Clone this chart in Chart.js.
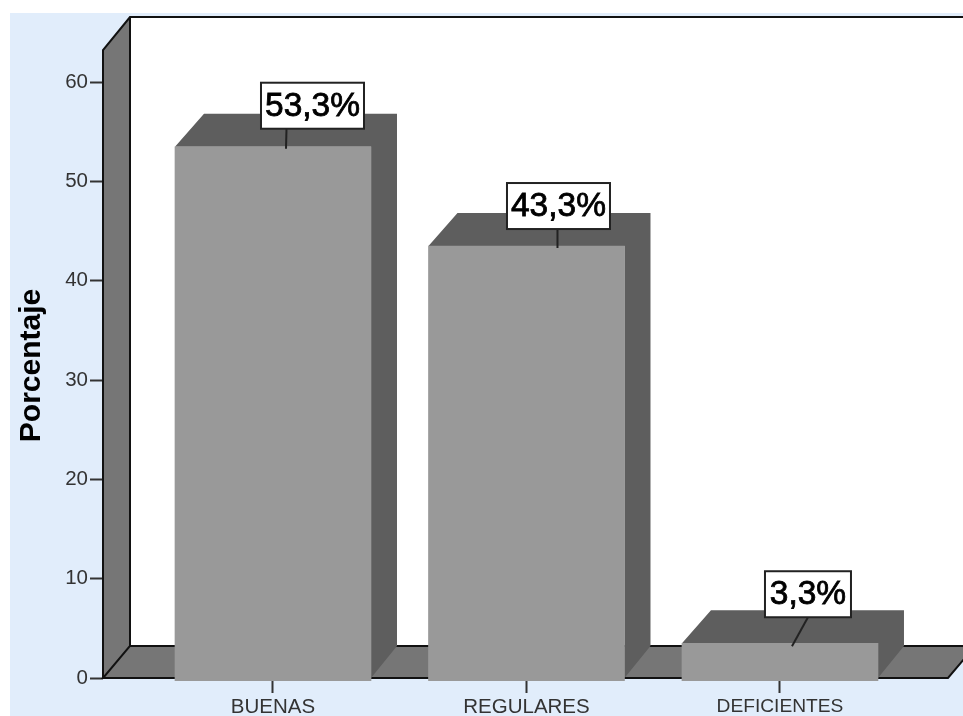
<!DOCTYPE html>
<html>
<head>
<meta charset="utf-8">
<style>
  html, body { margin: 0; padding: 0; background: #fff; }
  canvas { display: block; }
</style>
<script src="https://cdn.jsdelivr.net/npm/chart.js@4/dist/chart.umd.min.js"></script>
</head>
<body>
<canvas id="chart" width="963" height="716"></canvas>
<script>
const categories = ['BUENAS', 'REGULARES', 'DEFICIENTES'];
const percentages = [53.3, 43.3, 3.3];
const percentLabels = ['53,3%', '43,3%', '3,3%'];
const yTickValues = [0, 10, 20, 30, 40, 50, 60];

// 3D look: how far the back wall sits from the front
const depthX = 27;
const depthY = 33;
const barDepthX = 27;

// callout box placement, relative to the bar's top centre
const calloutDx = [39.5, 32, 28];
const calloutGap = [18, 17, 26];
const calloutW = [103, 103, 86];
const calloutH = 46;
const leaderEndDx = [13, 31, 12];

// the long label is set a bit tighter in the original
const categoryFontSizes = [20.5, 20.5, 19.2];

const font = '"Liberation Sans", Arial, sans-serif';

const walls3d = {
  id: 'walls3d',
  beforeDraw(chart) {
    const c = chart.ctx;
    c.save();
    c.fillStyle = '#fff';
    c.fillRect(0, 0, 963, 716);
    c.fillStyle = '#e1edfb';
    c.fillRect(10, 13, 953, 703);
    c.restore();
  },
  beforeDatasetsDraw(chart) {
    const c = chart.ctx;
    const a = chart.chartArea;
    const y0 = chart.scales.y.getPixelForValue(0);
    const left = a.left;
    const top = a.top;
    const backX = left + depthX;
    const backTop = top - depthY;
    const backBottom = y0 - depthY + 1;
    const far = 1000;

    c.save();
    // back wall
    c.fillStyle = '#fff';
    c.fillRect(backX, backTop, far, backBottom - backTop);

    // left wall
    c.fillStyle = '#767676';
    c.beginPath();
    c.moveTo(left, top);
    c.lineTo(backX, backTop);
    c.lineTo(backX, backBottom);
    c.lineTo(left, y0);
    c.closePath();
    c.fill();

    // floor
    c.beginPath();
    c.moveTo(left, y0);
    c.lineTo(backX, backBottom);
    c.lineTo(975, backBottom);
    c.lineTo(948, y0);
    c.closePath();
    c.fill();

    // edges
    c.strokeStyle = '#111';
    c.lineWidth = 2;
    c.beginPath();
    c.moveTo(left, y0);
    c.lineTo(left, top);
    c.lineTo(backX, backTop);
    c.lineTo(far, backTop);
    c.moveTo(backX, backTop);
    c.lineTo(backX, backBottom);
    c.lineTo(left, y0);
    c.lineTo(948, y0);
    c.lineTo(975, backBottom);
    c.moveTo(backX, backBottom);
    c.lineTo(far, backBottom);
    c.stroke();

    // bar side and top faces, the front face is the real bar
    c.fillStyle = '#5e5e5e';
    chart.getDatasetMeta(0).data.forEach(bar => {
      const l = bar.x - bar.width / 2;
      const r = bar.x + bar.width / 2;
      c.beginPath();
      c.moveTo(l, bar.y);
      c.lineTo(l + barDepthX + 2, bar.y - depthY);
      c.lineTo(r + barDepthX - 1, bar.y - depthY);
      c.lineTo(r + barDepthX - 1, backBottom);
      c.lineTo(r, y0);
      c.lineTo(r, bar.y);
      c.closePath();
      c.fill();
    });
    c.restore();
  },
  afterDatasetsDraw(chart) {
    const c = chart.ctx;
    c.save();
    chart.getDatasetMeta(0).data.forEach((bar, i) => {
      const cx = bar.x + calloutDx[i];
      const bottom = bar.y - calloutGap[i];
      const boxLeft = cx - calloutW[i] / 2;

      c.strokeStyle = '#222';
      c.lineWidth = 2;
      c.beginPath();
      c.moveTo(bar.x + leaderEndDx[i], bar.y + (i === 2 ? 3 : 2));
      c.lineTo(cx + (i === 0 ? -26 : i === 2 ? 0 : -1), bottom);
      c.stroke();

      c.fillStyle = '#fff';
      c.fillRect(boxLeft, bottom - calloutH, calloutW[i], calloutH);
      c.strokeRect(boxLeft, bottom - calloutH, calloutW[i], calloutH);

      c.fillStyle = '#000';
      c.font = '33.5px ' + font;
      c.textAlign = 'center';
      c.textBaseline = 'middle';
      c.fillText(percentLabels[i], cx, bottom - calloutH / 2 + 1);
      c.lineWidth = 0.8;
      c.strokeStyle = '#000';
      c.strokeText(percentLabels[i], cx, bottom - calloutH / 2 + 1);
    });
    c.restore();
  }
};

new Chart(document.getElementById('chart'), {
  type: 'bar',
  data: {
    datasets: [{
      data: percentages.map((v, i) => ({ x: i, y: v })),
      yAxisID: 'yBars',
      backgroundColor: '#999999',
      borderWidth: 0,
      barThickness: 196,
      base: -0.503
    }]
  },
  plugins: [walls3d],
  options: {
    responsive: false,
    animation: false,
    devicePixelRatio: 1,
    layout: { padding: { top: 50, left: 0, right: 0, bottom: 0 } },
    plugins: { legend: { display: false }, tooltip: { enabled: false } },
    scales: {
      x: {
        type: 'linear',
        offset: false,
        min: -0.6706,
        max: 2.722,
        afterBuildTicks: s => { s.ticks = categories.map((c, i) => ({ value: i })); },
        afterFit: s => { s.height = 35; },
        border: { display: false },
        grid: { offset: false, drawOnChartArea: false, drawTicks: true, tickLength: 12, tickColor: '#333', tickWidth: 2 },
        ticks: {
          autoSkip: false,
          maxRotation: 0,
          padding: 2,
          color: '#333',
          font: ctx => ({ family: font, size: categoryFontSizes[ctx.index] }),
          callback: v => categories[v]
        }
      },
      y: {
        position: 'left',
        min: -0.302,
        max: 63.243,
        afterBuildTicks: s => { s.ticks = yTickValues.map(v => ({ value: v })); },
        afterFit: s => { s.width = 103; },
        border: { display: false },
        grid: { drawOnChartArea: false, drawTicks: true, tickLength: 13, tickColor: '#333', tickWidth: 2 },
        ticks: { padding: 2, color: '#333', font: { family: font, size: 20.5 } },
        title: {
          display: true,
          text: 'Porcentaje',
          color: '#000',
          font: { family: font, size: 30, weight: 'bold' },
          padding: { top: 14, bottom: 0 }
        }
      },
      // bars stand slightly in front of the axis, so they get their own scale
      yBars: { display: false, min: -0.503, max: 63.04 }
    }
  }
});
</script>
</body>
</html>
